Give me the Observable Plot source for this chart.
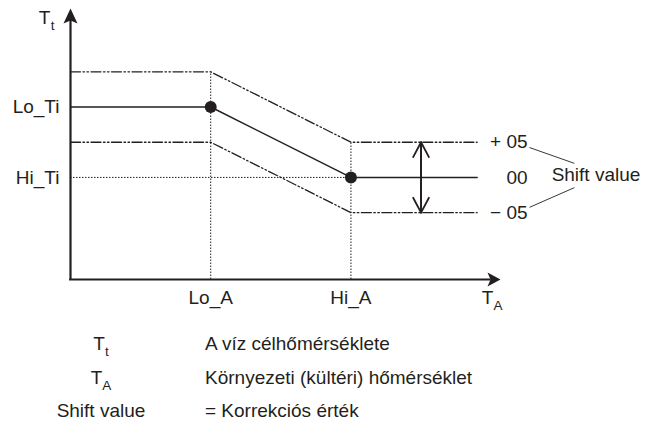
<!DOCTYPE html>
<html><head><meta charset="utf-8">
<script src="https://cdn.jsdelivr.net/npm/d3@7"></script>
<script src="https://cdn.jsdelivr.net/npm/@observablehq/plot@0.6"></script>
<style>
body{margin:0;background:#fff;font-family:"Liberation Sans",Arial,Helvetica,sans-serif;color:#231f20}
#wrap{position:relative;width:649px;height:429px;overflow:hidden}
#chart svg{display:block;overflow:visible}
.row{position:absolute;font-size:19px;line-height:21px;white-space:nowrap}
.term{left:51px;width:100px;text-align:center}
.def{left:205px}
.sub{font-size:13.5px;position:relative;top:6px}
</style>
</head><body>
<div id="wrap"><div id="chart"></div></div>
<script>
// ---- data (schematic units) ----
const xKnots = [0, 3, 6, 8.7];          // y-axis, Lo_A, Hi_A, end of curve
const yKnots = [4.9, 4.9, 2.9, 2.9];    // Lo_Ti ... Hi_Ti
const shift = 1;                        // shift value band
const xMax = 9.2, yMax = 7.7;           // axis arrow tips
const xTicks = [3, 6];
const xTickLabels = ["Lo_A", "Hi_A"];
const yTicks = [4.9, 2.9];
const yTickLabels = ["Lo_Ti", "Hi_Ti"];
const shiftOffsets = [1, 0, -1];
const shiftLabels = ["+ 05", "00", "\u2212 05"];
const shiftArrowX = 7.5;
const leaderX = [9.82, 10.78];
const leaderYUpper = [3.75, 3.30];
const leaderYLower = [2.05, 2.61];
const legendTerms = [["T", "t"], ["T", "A"], ["Shift value", ""]];
const legendDefs = ["A víz célhőmérséklete", "Környezeti (kültéri) hőmérséklet", "= Korrekciós érték"];
const legendRowY = [343, 377, 410];

// ---- derived tables ----
const curve = (off) => xKnots.map((x, i) => ({x, y: yKnots[i] + off}));
const mid = curve(0), upper = curve(shift), lower = curve(-shift);
const hiA = xKnots[2], loA = xKnots[1], xEnd = xKnots[3];
const hiTi = yKnots[2], loTi = yKnots[1];

const ink = "#231f20";
const dashDot = "10,2.5,1.5,2.5,1.5,2.5";
const dotted = "1.5,1.5";

const upHead = {draw(c) { c.moveTo(0, 0); c.lineTo(7, 15); c.lineTo(0, 12); c.lineTo(-7, 15); c.closePath(); }};
const rightHead = {draw(c) { c.moveTo(0, 0); c.lineTo(-13, -7); c.lineTo(-10, 0); c.lineTo(-13, 7); c.closePath(); }};

const chart = Plot.plot({
  width: 649, height: 320,
  marginLeft: 70, marginRight: 149, marginTop: 8, marginBottom: 41,
  x: {domain: [0, xMax], axis: null},
  y: {domain: [0, yMax], axis: null},
  style: {fontFamily: '"Liberation Sans", Arial, Helvetica, sans-serif', fontSize: "19px", color: ink, background: "#fff"},
  marks: [
    // dotted guides
    Plot.ruleX([loA], {y1: 0, y2: loTi + shift, stroke: ink, strokeWidth: 1, strokeDasharray: dotted}),
    Plot.ruleX([hiA], {y1: 0, y2: hiTi + shift, stroke: ink, strokeWidth: 1, strokeDasharray: dotted}),
    Plot.ruleY([hiTi], {x1: 0, x2: hiA, stroke: ink, strokeWidth: 1, strokeDasharray: dotted}),
    // shift band
    Plot.line(upper, {x: "x", y: "y", stroke: ink, strokeWidth: 1.3, strokeDasharray: dashDot}),
    Plot.line(lower, {x: "x", y: "y", stroke: ink, strokeWidth: 1.3, strokeDasharray: dashDot}),
    // main curve
    Plot.line(mid, {x: "x", y: "y", stroke: ink, strokeWidth: 1.5}),
    Plot.dot([mid[1], mid[2]], {x: "x", y: "y", r: 6, fill: ink, stroke: null}),
    // double arrow
    Plot.arrow([{a: hiTi - shift, b: hiTi + shift}, {a: hiTi + shift, b: hiTi - shift}], {
      x1: () => shiftArrowX, x2: () => shiftArrowX, y1: "a", y2: "b",
      stroke: ink, strokeWidth: 1.8, headLength: 14, headAngle: 56
    }),
    // axes
    Plot.ruleX([0], {y1: 0, y2: yMax - 0.3, stroke: ink, strokeWidth: 2.2}),
    Plot.ruleY([0], {x1: -0.02, x2: xMax - 0.2, stroke: ink, strokeWidth: 2.2}),
    Plot.dot([{x: 0, y: yMax}], {x: "x", y: "y", symbol: upHead, fill: ink, stroke: null}),
    Plot.dot([{x: xMax, y: 0}], {x: "x", y: "y", symbol: rightHead, fill: ink, stroke: null}),
    // tick labels
    Plot.text(yTickLabels, {x: () => 0, y: (d, i) => yTicks[i], text: d => d, textAnchor: "end", dx: -11, fill: ink}),
    Plot.text(xTickLabels, {x: (d, i) => xTicks[i], y: () => 0, text: d => d, dy: 18, fill: ink}),
    // axis titles
    Plot.text(["T"], {x: () => xMax, y: () => 0, text: d => d, dx: -13, dy: 18.5, fill: ink}),
    Plot.text(["A"], {x: () => xMax, y: () => 0, text: d => d, dx: -2.5, dy: 26, fontSize: 13.5, fill: ink}),
    Plot.text(["T"], {x: () => 0, y: () => yMax, text: d => d, dx: -26, dy: 9, fill: ink}),
    Plot.text(["t"], {x: () => 0, y: () => yMax, text: d => d, dx: -18, dy: 17, fontSize: 13.5, fill: ink}),
    // shift labels
    Plot.text(shiftLabels, {x: () => xEnd, y: (d, i) => hiTi + shiftOffsets[i] * shift, text: d => d, textAnchor: "end", dx: 50.5, fill: ink}),
    Plot.text(["Shift value"], {x: () => xEnd, y: () => hiTi, text: d => d, textAnchor: "start", dx: 74.5, dy: -2.5, fill: ink}),
    Plot.link([0], {x1: () => leaderX[0], x2: () => leaderX[1], y1: () => leaderYUpper[0], y2: () => leaderYUpper[1], stroke: ink, strokeWidth: 0.9}),
    Plot.link([0], {x1: () => leaderX[0], x2: () => leaderX[1], y1: () => leaderYLower[0], y2: () => leaderYLower[1], stroke: ink, strokeWidth: 0.9})
  ]
});
document.getElementById("chart").appendChild(chart);

// legend below the chart
const wrap = document.getElementById("wrap");
legendTerms.forEach(([main, sub], i) => {
  const t = document.createElement("div");
  t.className = "row term";
  t.style.top = (legendRowY[i] - 10.3) + "px";
  t.textContent = main;
  if (sub) { const s = document.createElement("span"); s.className = "sub"; s.textContent = sub; t.appendChild(s); }
  wrap.appendChild(t);
  const d = document.createElement("div");
  d.className = "row def";
  d.style.top = (legendRowY[i] - 10.3) + "px";
  d.textContent = legendDefs[i];
  wrap.appendChild(d);
});
</script>
</body></html>
